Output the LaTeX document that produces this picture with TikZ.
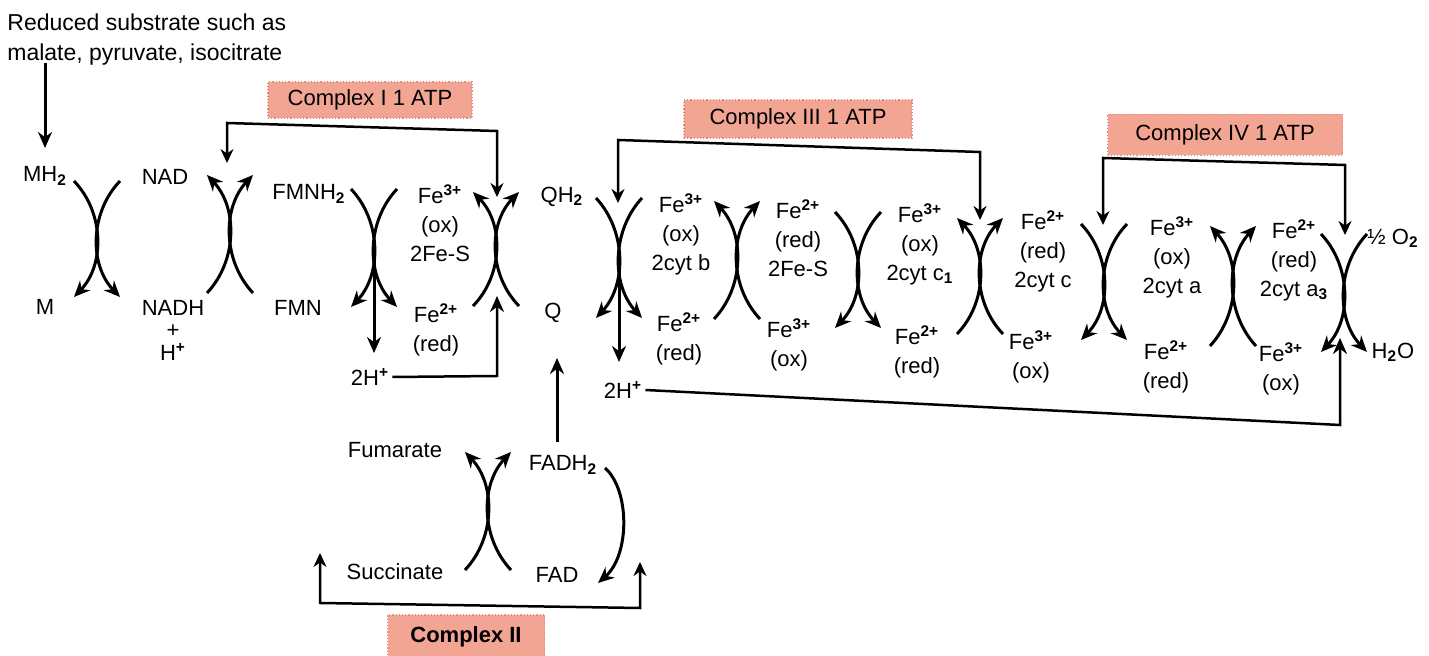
\documentclass[tikz,border=0pt]{standalone}
\usepackage{fontspec}
\setmainfont{Liberation Sans}
\usetikzlibrary{arrows.meta}
\definecolor{boxfill}{RGB}{243,165,148}
\definecolor{boxedge}{RGB}{228,140,122}
\newcommand\supx[1]{\textsuperscript{\bfseries #1}}
\newcommand\subx[1]{\textsubscript{\bfseries #1}}
\newcommand\xing[6]{%
  \coordinate (#1-tl) at ({#2-23},{#3-#4});
  \coordinate (#1-bl) at ({#2-23},{#3+#4});
  \coordinate (#1-tr) at ({#2+23},{#3-#4});
  \coordinate (#1-br) at ({#2+23},{#3+#4});
  \coordinate (#1-c) at (#2,#3);
  \draw[arcline,#5] (#1-tl) .. controls +(30.6,{0.55*#4}) and +(30.6,{-0.55*#4}) .. (#1-bl);
  \draw[arcline,#6] (#1-tr) .. controls +(-30.6,{0.55*#4}) and +(-30.6,{-0.55*#4}) .. (#1-br);
}
\begin{document}
\begin{tikzpicture}[x=0.5pt,y=-0.5pt,
  every node/.style={font=\fontsize{11}{14.5}\selectfont, inner sep=0pt, align=center},
  arcline/.style={line width=1.5pt},
  fwd/.style={-{Stealth[length=8pt,width=7pt]}},
  bwd/.style={{Stealth[length=8pt,width=7pt]}-},
  both/.style={{Stealth[length=7pt,width=6.5pt]}-{Stealth[length=7pt,width=6.5pt]}},
  brk/.style={line width=1.25pt, line join=miter},
  lab/.style={fill=boxfill, draw=boxedge, densely dotted, line width=0.6pt, text=black}]
\useasboundingbox (0,0) rectangle (1429,656);

% ---- text nodes ----
\node[anchor=west, align=left, font=\fontsize{11.5}{15}\selectfont] (sub) at (7,40) {Reduced substrate such as\\malate, pyruvate, isocitrate};
\node (MH2) at (45,176) {MH\subx{2}};
\node (M) at (45,307) {M};
\node (NAD) at (165,177) {NAD};
\node (NADH) at (173,308) {NADH};
\node (plus) at (173,331) {+};
\node (Hp) at (173,352) {H\supx{+}};
\node (FMNH2) at (309,194) {FMNH\subx{2}};
\node (FMN) at (298,308) {FMN};
\node (feA) at (440,223) {Fe\supx{3+}\\(ox)\\2Fe-S};
\node (feAr) at (436,330) {Fe\supx{2+}\\(red)};
\node (h1) at (370,377) {2H\supx{+}};
\node (QH2) at (562,197) {QH\subx{2}};
\node (Q) at (553,313) {Q};
\node (cb) at (681,234) {Fe\supx{3+}\\(ox)\\2cyt b};
\node (cbr) at (679,339) {Fe\supx{2+}\\(red)};
\node (fs) at (798,238) {Fe\supx{2+}\\(red)\\2Fe-S};
\node (fso) at (789,345) {Fe\supx{3+}\\(ox)};
\node (c1) at (920,244) {Fe\supx{3+}\\(ox)\\2cyt c\subx{1}};
\node (c1r) at (917,352) {Fe\supx{2+}\\(red)};
\node (cc) at (1043,251) {Fe\supx{2+}\\(red)\\2cyt c};
\node (cco) at (1031,357) {Fe\supx{3+}\\(ox)};
\node (ca) at (1172,257) {Fe\supx{3+}\\(ox)\\2cyt a};
\node (car) at (1166,367) {Fe\supx{2+}\\(red)};
\node (ca3) at (1294,260) {Fe\supx{2+}\\(red)\\2cyt a\subx{3}};
\node (ca3o) at (1281,369) {Fe\supx{3+}\\(ox)};
\node (O2) at (1393,238) {½ O\subx{2}};
\node (H2O) at (1393,352) {H\subx{2}O};
\node (h2) at (623,390) {2H\supx{+}};
\node (Fum) at (395,450) {Fumarate};
\node (FADH2) at (563,465) {FADH\subx{2}};
\node (Suc) at (395,572) {Succinate};
\node (FAD) at (557,575) {FAD};

% ---- complex labels ----
\node[lab, minimum width=102pt, minimum height=18pt] (cI) at (370,100) {Complex I 1 ATP};
\node[lab, minimum width=114pt, minimum height=19pt] (cIII) at (798,119) {Complex III 1 ATP};
\node[lab, minimum width=117.5pt, minimum height=20.5pt] (cIV) at (1225,135) {Complex IV 1 ATP};
\node[lab, minimum width=78.5pt, minimum height=22pt, font=\fontsize{11}{14.5}\selectfont\bfseries] (cII) at (466,637) {Complex II};

% ---- crossings ----
\xing{x1}{97}{239}{58}{fwd}{fwd}
\xing{x2}{230}{234}{59}{bwd}{bwd}
\xing{x3}{374}{248}{59}{fwd}{fwd}
\xing{x4}{496}{249}{57}{bwd}{bwd}
\xing{x5}{619}{258}{60}{fwd}{fwd}
\xing{x6}{737}{260}{59}{bwd}{bwd}
\xing{x7}{858}{270}{58}{fwd}{fwd}
\xing{x8}{980}{276}{58}{bwd}{bwd}
\xing{x9}{1104}{282}{58}{fwd}{fwd}
\xing{x10}{1233}{286}{60}{bwd}{bwd}
\xing{x11}{1344}{293}{59}{fwd}{fwd}
\xing{x12}{488}{511}{59}{bwd}{bwd}

% ---- substrate arrow ----
\coordinate (subA) at (45,63);
\coordinate (subB) at (45,148);
\draw[arcline,fwd] (subA) -- (subB);

% ---- proton arrows ----
\coordinate (x3d) at (374,353);
\draw[arcline,fwd] (x3-c) -- (x3d);
\coordinate (x5d) at (619,362);
\draw[arcline,fwd] (x5-c) -- (x5d);

% ---- 2H+ returns ----
\coordinate (h1c) at (497,376);
\coordinate (h1t) at (497,296);
\draw[brk,fwd] (h1.east) ++(3,0) -- (h1c) -- (h1t);
\coordinate (h2c) at (1340,425);
\coordinate (h2t) at (1340,338);
\draw[brk,fwd] (h2.east) ++(3,0) -- (h2c) -- (h2t);

% ---- complex brackets ----
\coordinate (bIa) at (227,163);
\coordinate (bIl) at (227,123);
\coordinate (bIr) at (497,131);
\coordinate (bIb) at (497,197);
\draw[brk,both] (bIa) -- (bIl) -- (bIr) -- (bIb);
\coordinate (bIIIa) at (618,203);
\coordinate (bIIIl) at (618,140);
\coordinate (bIIIr) at (980,152);
\coordinate (bIIIb) at (980,220);
\draw[brk,both] (bIIIa) -- (bIIIl) -- (bIIIr) -- (bIIIb);
\coordinate (bIVa) at (1103,225);
\coordinate (bIVl) at (1103,158);
\coordinate (bIVr) at (1345,165);
\coordinate (bIVb) at (1345,235);
\draw[brk,both] (bIVa) -- (bIVl) -- (bIVr) -- (bIVb);
\coordinate (bIIa) at (320,553);
\coordinate (bIIl) at (320,603);
\coordinate (bIIr) at (640,608);
\coordinate (bIIb) at (640,562);
\draw[brk,both] (bIIa) -- (bIIl) -- (bIIr) -- (bIIb);

% ---- Complex II ----
\coordinate (fadUpA) at (557,442);
\coordinate (fadUpB) at (557,358);
\draw[arcline,fwd] (fadUpA) -- (fadUpB);
\coordinate (faA) at (605,468);
\coordinate (faB) at (598,583);
\draw[arcline,fwd] (faA) .. controls (630,490) and (630,555) .. (faB);
\end{tikzpicture}
\end{document}
